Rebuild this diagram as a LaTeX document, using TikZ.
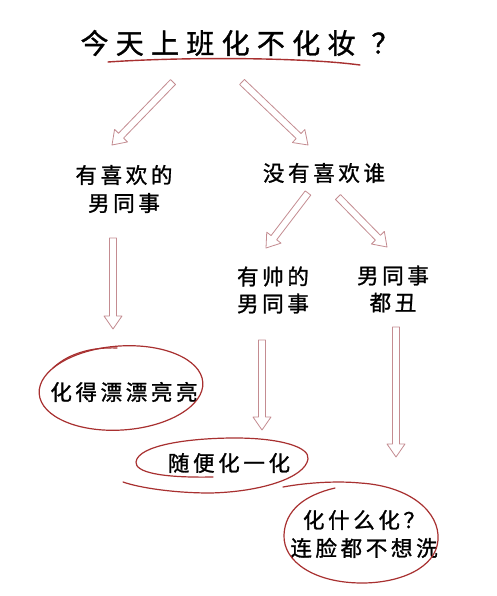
\documentclass[tikz,border=0pt]{standalone}
\usepackage{fontspec}
\usetikzlibrary{calc}
\newfontfamily\cjk{Noto Sans CJK SC}[FakeBold=1.2]
\definecolor{inkred}{RGB}{168,48,48}
\definecolor{arrowpink}{RGB}{196,140,145}
\newcommand\harrow[2]{%
  \path ($(#2)!13pt!(#1)$) coordinate (hh);
  \draw[arr] ($(#1)!3.5pt!90:(#2)$) -- ($(hh)!3.5pt!90:(#2)$) -- ($(hh)!9pt!90:(#2)$) -- (#2)
    -- ($(hh)!9pt!-90:(#2)$) -- ($(hh)!3.5pt!-90:(#2)$) -- ($(#1)!3.5pt!-90:(#2)$) -- cycle;}
\tikzset{
  lbl/.style={font=\cjk\fontsize{21.5}{27}\selectfont\addfontfeature{LetterSpace=17}, align=center, inner sep=0pt},
  hand/.style={draw=inkred, line width=1.2pt, line cap=round, line join=round},
  arr/.style={draw=arrowpink, fill=white, line width=0.8pt, line join=round},
}
\begin{document}
\begin{tikzpicture}[x=1pt,y=-1pt]
\fill[white] (0,0) rectangle (496,596);
\useasboundingbox (0,0) rectangle (496,596);

% texts
\node[lbl, font=\cjk\fontsize{28}{30}\selectfont\addfontfeature{LetterSpace=26}] (t) at (240,43) {今天上班化不化妆\hspace{16pt}？};
\node[lbl, font=\cjk\fontsize{21.5}{28}\selectfont\addfontfeature{LetterSpace=17}] (a1) at (124,189) {有喜欢的\\男同事};
\node[lbl] (a2) at (324,173) {没有喜欢谁};
\node[lbl] (b1) at (273,290) {有帅的\\男同事};
\node[lbl] (b2) at (393,289) {男同事\\都丑};
\node[lbl] (r1) at (124,392) {化得漂漂亮亮};
\node[lbl] (r2) at (229,463) {随便化一化};
\node[lbl, font=\cjk\fontsize{21.5}{28}\selectfont\addfontfeature{LetterSpace=17}] (r3) at (364,534) {化什么化？\\连脸都不想洗};

% underline of the question
\draw[hand, line width=1.4pt] (108,62) .. controls (180,57) and (300,57) .. (360,65);

% arrow end points
\coordinate (A1s) at (173,82);  \coordinate (A1e) at (112,145);
\coordinate (A2s) at (242,82);  \coordinate (A2e) at (308,145);
\coordinate (A3s) at (308,193); \coordinate (A3e) at (266,248);
\coordinate (A4s) at (338,197); \coordinate (A4e) at (387,247);
\coordinate (A5s) at (113,238); \coordinate (A5e) at (113,329);
\coordinate (A6s) at (262,340); \coordinate (A6e) at (262,430);
\coordinate (A7s) at (396,327); \coordinate (A7e) at (396,457);

\harrow{A1s}{A1e}
\harrow{A2s}{A2e}
\harrow{A3s}{A3e}
\harrow{A4s}{A4e}
\harrow{A5s}{A5e}
\harrow{A6s}{A6e}
\harrow{A7s}{A7e}

% hand-drawn loops around the results
\draw[hand, rotate around={4:(121,388)}] (121,388) ellipse [x radius=82pt, y radius=42pt];
\draw[hand] (53,368) .. controls (70,352) and (95,347) .. (117,348);

\draw[hand] (213,477) .. controls (160,478) and (135,472) .. (136,462)
  .. controls (138,445) and (190,438) .. (235,438)
  .. controls (280,438) and (310,447) .. (308,459)
  .. controls (305,478) and (260,492) .. (210,493)
  .. controls (175,493) and (140,488) .. (123,482);

\draw[hand] (283,487) .. controls (310,482) and (340,481) .. (360,483)
  .. controls (410,486) and (440,512) .. (438,540)
  .. controls (436,568) and (400,583) .. (362,583)
  .. controls (315,583) and (283,562) .. (284,535)
  .. controls (285,510) and (305,495) .. (335,488);
\end{tikzpicture}
\end{document}
